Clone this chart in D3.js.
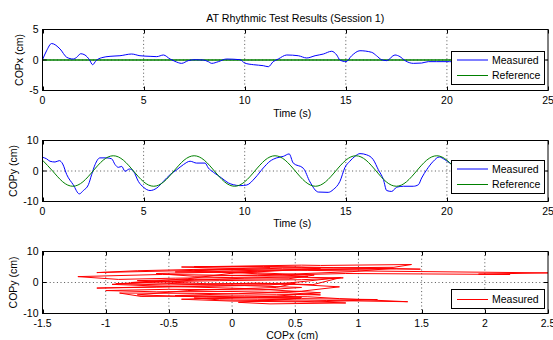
<!DOCTYPE html>
<html><head><meta charset="utf-8">
<script src="https://cdn.jsdelivr.net/npm/d3@7/dist/d3.min.js"></script>
<style>
html,body{margin:0;padding:0;background:#fff;}
svg{display:block;font-family:"Liberation Sans",Arial,Helvetica,sans-serif;}
</style></head>
<body>
<svg id="chart" width="553" height="340"></svg>
<script>
// ---------- DATA ----------
const titleText = "AT Rhythmic Test Results (Session 1)";
const timeTicks = [0, 5, 10, 15, 20, 25];
const copxTicks = [-5, 0, 5];
const copyTicks = [-10, 0, 10];
const xyXTicks = [-1.5, -1, -0.5, 0, 0.5, 1, 1.5, 2, 2.5];

// Panel 1: COPx vs time
const tCopx = [0, 0.2, 0.45, 0.87, 1.2, 1.52, 1.69, 1.89, 2.1, 2.32, 2.48, 2.65, 2.93, 3.34, 3.83, 4.41, 4.82, 5.32, 5.65, 5.98, 6.31, 6.55, 6.88, 7.21, 7.54, 7.95, 8.2, 8.37, 8.7, 9.1, 9.77, 10.0, 10.43, 10.92, 11.17, 11.41, 11.66, 12.08, 12.65, 13.07, 13.48, 13.89, 14.3, 14.55, 14.71, 15.01, 15.29, 15.7, 16.28, 16.52, 16.77, 17.02, 17.43, 17.68, 17.93, 18.34, 18.75, 19.08, 19.5, 20.12, 20.5];
const copxMeasured = [0.05, 1.5, 2.7, 1.8, 0.44, 0.16, 0.44, 1.03, 0.82, 0.05, -0.77, -0.1, 0.38, 0.6, 0.7, 0.98, 0.7, 0.6, 0.55, 0.82, 0.16, -0.22, -0.55, -0.1, 0.05, 0, -0.27, -0.55, -0.27, 0.16, 0.05, -0.5, -0.77, -0.93, -1.1, -0.27, 0.16, 0.82, 0.7, 0.33, 0.7, 0.98, 1.43, 0.82, 0, -0.27, 0.7, 1.52, 1.26, 0.7, 0.05, -0.1, 0.82, 0.55, -0.1, -0.55, -0.5, -0.27, -0.27, -0.27, -0.3];
const tCopxRef = [0, 20.5];
const copxReference = [0, 0];

// Panel 2: COPy vs time
const tCopy = [0, 0.2, 0.37, 0.62, 0.83, 1.0, 1.2, 1.52, 1.82, 2.02, 2.27, 2.43, 2.6, 2.84, 3.17, 3.42, 3.59, 3.75, 3.92, 4.08, 4.3, 4.5, 4.74, 4.99, 5.32, 5.65, 5.98, 6.31, 6.64, 6.97, 7.3, 7.62, 8.04, 8.2, 8.45, 8.86, 9.19, 9.44, 9.77, 10.1, 10.51, 10.92, 11.25, 11.58, 11.91, 12.2, 12.4, 12.9, 13.23, 13.64, 14.13, 14.38, 14.71, 14.96, 15.2, 15.45, 15.7, 16.03, 16.36, 16.61, 16.86, 17.02, 17.27, 17.52, 17.85, 18.34, 18.59, 18.75, 19.0, 19.33, 19.62, 19.9, 20.15, 20.5];
const copyMeasured = [4.5, 4.0, 3.2, 2.95, 3.4, 2.3, -1.2, -4.5, -7.5, -6.4, -4.5, -1.2, 2.1, 4.3, 4.3, 4.0, 2.1, 1.2, 1.5, -0.1, 0.65, -0.1, -3.4, -5.3, -6.4, -5.6, -3.4, -1.2, 0.4, 2.1, 3.2, 2.6, 2.6, 1.0, -0.4, -2.3, -3.9, -4.5, -4.8, -4.6, -2.3, 1.0, 3.2, 4.3, 4.8, 5.6, 2.6, 0.9, -3.6, -6.9, -7.0, -6.1, -3.4, 1.2, 3.2, 4.8, 5.7, 5.3, 3.7, 0.4, -2.8, -6.4, -6.7, -5.3, -5.0, -5.0, -4.5, -2.3, 0.4, 3.2, 4.6, 3.7, 2.6, 1.5];
const tCopyRef = [0, 0.5, 1, 1.5, 2, 2.5, 3, 3.5, 4, 4.5, 5, 5.5, 6, 6.5, 7, 7.5, 8, 8.5, 9, 9.5, 10, 10.5, 11, 11.5, 12, 12.5, 13, 13.5, 14, 14.5, 15, 15.5, 16, 16.5, 17, 17.5, 18, 18.5, 19, 19.5, 20, 20.5];
const copyReference = [3.54, 0, -3.54, -5, -3.54, 0, 3.54, 5, 3.54, 0, -3.54, -5, -3.54, 0, 3.54, 5, 3.54, 0, -3.54, -5, -3.54, 0, 3.54, 5, 3.54, 0, -3.54, -5, -3.54, 0, 3.54, 5, 3.54, 0, -3.54, -5, -3.54, 0, 3.54, 5, 3.54, 0];

// Panel 3: COPy vs COPx trajectory
const xyCopx = [0.10, -0.40, 0.55, 0.70, 1.42, 1.28, 0.40, -0.30, -1.07, -0.75, -0.20, 0.60, 2.50, 1.95, 2.20, 0.90, 0.20, -0.55, -1.22, -0.90, -0.45, 0.30, 0.88, 0.55, -0.10, -0.60, -0.92, -0.50, 0.20, 0.64, 0.86, 0.30, -0.40, -1.07, -0.60, 0.10, 0.55, 0.25, -0.50, -1.00, -0.60, 0.00, 0.45, 0.70, 0.35, -0.30, -0.89, -0.72, 0.10, 0.60, 0.85, 1.39, 0.75, 0.20, -0.30, -0.10, 0.50, 0.90, 0.30, 0.05, 0.45, 0.55, 0.20, -0.45, 0.05, 0.55, 0.85, 0.50, -0.20, -0.75, -0.30, 0.45, 0.65, 0.15, -0.45, 0.30, 1.30, 1.49, 0.80, 0.25, -0.30, 0.55, 0.70, 0.20, -0.60, -0.30, 0.40, 0.95, 1.28, 0.55, 0.00, -0.35, -0.80, -0.20, 0.50, 0.35, -0.35, -0.75, -0.20, 0.55, 1.15, 0.65, 0.00, -0.40, 0.35, 0.70, 0.15, -0.55, -0.95, -0.50, 0.10, 0.60, 0.20, -0.30, 0.30];
const xyCopy = [4.4, 5.0, 5.6, 5.5, 5.8, 4.9, 4.6, 3.9, 3.2, 3.8, 4.3, 3.9, 3.1, 2.7, 2.6, 2.9, 2.2, 2.6, 1.9, 1.0, 1.4, 1.8, 1.5, 0.9, 0.6, 0.2, -0.4, -0.8, -0.2, -0.7, 1.6, -0.8, -1.2, -1.8, -1.5, -1.0, -1.6, -2.4, -2.2, -2.6, -3.0, -2.9, -3.3, -4.0, -3.8, -3.5, -3.4, -4.5, -4.3, -4.6, -5.2, -6.2, -5.8, -5.4, -5.0, -5.6, -6.0, -6.6, -6.9, -6.4, -5.4, -4.9, -4.8, -4.2, -3.6, -2.8, -1.4, -0.6, -0.4, 0.6, 1.0, 1.2, 2.4, 3.2, 3.4, 4.0, 4.4, 4.3, 4.8, 5.2, 5.1, 4.9, 4.6, 3.6, 2.9, 2.0, 2.6, 3.5, 4.6, 4.2, 3.0, 1.2, 0.0, -0.6, -0.2, -1.6, -2.6, -4.0, -4.7, -5.2, -5.5, -6.3, -6.0, -5.4, -4.4, -3.3, -2.0, -1.2, -0.6, 0.4, 1.4, 2.0, 2.8, 4.0, 4.8];

// ---------- LAYOUT ----------
const svg = d3.select("#chart");
const L = 42.5, R = 548;
const panels = [
  {top: 29.5, bottom: 90.5, xDom: [0, 25], yDom: [-5, 5], xTicks: timeTicks, yTicks: copxTicks,
   xLabel: "Time (s)", yLabel: "COPx (cm)", yLabX: 22.5, tickBase: 104, xLabBase: 116.5,
   legend: {x: 451, y: 51, w: 93, h: 33, rows: [{c: "#0000ff", t: "Measured"}, {c: "#008000", t: "Reference"}]}},
  {top: 140.5, bottom: 201.5, xDom: [0, 25], yDom: [-10, 10], xTicks: timeTicks, yTicks: copyTicks,
   xLabel: "Time (s)", yLabel: "COPy (cm)", yLabX: 16.5, tickBase: 215, xLabBase: 227,
   legend: {x: 451, y: 160, w: 93, h: 33, rows: [{c: "#0000ff", t: "Measured"}, {c: "#008000", t: "Reference"}]}},
  {top: 251.5, bottom: 313.5, xDom: [-1.5, 2.5], yDom: [-10, 10], xTicks: xyXTicks, yTicks: copyTicks,
   xLabel: "COPx (cm)", yLabel: "COPy (cm)", yLabX: 16.5, tickBase: 327, xLabBase: 338.5,
   legend: {x: 451, y: 289, w: 93, h: 19, rows: [{c: "#ff0000", t: "Measured"}]}}
];
const fs = 10.5;
const fmt = v => String(v).replace("\u2212", "-");

panels.forEach(p => {
  p.x = d3.scaleLinear().domain(p.xDom).range([L, R]);
  p.y = d3.scaleLinear().domain(p.yDom).range([p.bottom, p.top]);
});

// Title
svg.append("text").attr("x", (L + R) / 2).attr("y", 22).attr("text-anchor", "middle")
  .attr("font-size", 10.7).attr("fill", "#000").text(titleText);

function drawPanel(p, series) {
  const g = svg.append("g");
  const x = p.x, y = p.y;
  // grid
  g.append("g").selectAll("line").data(p.xTicks.filter(v => v > p.xDom[0] && v < p.xDom[1]))
    .join("line").attr("x1", d => x(d)).attr("x2", d => x(d)).attr("y1", p.top).attr("y2", p.bottom)
    .attr("stroke", "#555").attr("stroke-width", 1).attr("stroke-dasharray", "1,2.6");
  g.append("g").selectAll("line").data(p.yTicks.filter(v => v > p.yDom[0] && v < p.yDom[1]))
    .join("line").attr("y1", d => y(d)).attr("y2", d => y(d)).attr("x1", L).attr("x2", R)
    .attr("stroke", "#555").attr("stroke-width", 1).attr("stroke-dasharray", "1,2.6");
  // series
  const clipId = "clip" + p.top;
  svg.append("clipPath").attr("id", clipId).append("rect")
    .attr("x", L).attr("y", p.top).attr("width", R - L).attr("height", p.bottom - p.top);
  const sg = g.append("g").attr("clip-path", `url(#${clipId})`);
  series.forEach(s => {
    const pts = s.xs.map((v, i) => [v, s.ys[i]]);
    const line = d3.line().x(d => x(d[0])).y(d => y(d[1])).curve(s.curve || d3.curveLinear);
    sg.append("path").attr("d", line(pts)).attr("fill", "none").attr("stroke", s.color)
      .attr("stroke-width", s.width || 1).attr("stroke-linejoin", "round");
  });
  // box
  g.append("rect").attr("x", L).attr("y", p.top).attr("width", R - L).attr("height", p.bottom - p.top)
    .attr("fill", "none").attr("stroke", "#000").attr("stroke-width", 1);
  // ticks (inward, all sides)
  const tl = 4;
  const tk = g.append("g").attr("stroke", "#000").attr("stroke-width", 1);
  p.xTicks.forEach(v => {
    const xx = Math.round(x(v)) + 0.5;
    tk.append("line").attr("x1", xx).attr("x2", xx).attr("y1", p.bottom).attr("y2", p.bottom - tl);
    tk.append("line").attr("x1", xx).attr("x2", xx).attr("y1", p.top).attr("y2", p.top + tl);
  });
  p.yTicks.forEach(v => {
    const yy = y(v);
    tk.append("line").attr("x1", L).attr("x2", L + tl).attr("y1", yy).attr("y2", yy);
    tk.append("line").attr("x1", R).attr("x2", R - tl).attr("y1", yy).attr("y2", yy);
  });
  // tick labels
  g.append("g").selectAll("text").data(p.xTicks).join("text")
    .attr("x", d => x(d)).attr("y", p.tickBase).attr("text-anchor", "middle")
    .attr("font-size", fs).attr("fill", "#000").text(d => fmt(d));
  g.append("g").selectAll("text").data(p.yTicks).join("text")
    .attr("x", 38.5).attr("y", d => y(d)).attr("dy", "0.36em").attr("text-anchor", "end")
    .attr("font-size", fs).attr("fill", "#000").text(d => fmt(d));
  // axis labels
  g.append("text").attr("x", (L + R) / 2 - 3).attr("y", p.xLabBase).attr("text-anchor", "middle")
    .attr("font-size", fs).attr("fill", "#000").text(p.xLabel);
  g.append("text").attr("transform", `translate(${p.yLabX},${(p.top + p.bottom) / 2}) rotate(-90)`)
    .attr("text-anchor", "middle").attr("font-size", fs).attr("fill", "#000").text(p.yLabel);
  // legend
  const lg = p.legend;
  const lgg = svg.append("g");
  lgg.append("rect").attr("x", lg.x + 0.5).attr("y", lg.y + 0.5).attr("width", lg.w).attr("height", lg.h)
    .attr("fill", "#fff").attr("stroke", "#000").attr("stroke-width", 1);
  lg.rows.forEach((r, i) => {
    const ry = lg.y + (lg.rows.length === 1 ? 10.5 : 9 + i * 15.5);
    lgg.append("line").attr("x1", lg.x + 6).attr("x2", lg.x + 37).attr("y1", ry).attr("y2", ry)
      .attr("stroke", r.c).attr("stroke-width", 1);
    lgg.append("text").attr("x", lg.x + 41).attr("y", ry).attr("dy", "0.36em")
      .attr("font-size", fs).attr("fill", "#000").text(r.t);
  });
}

drawPanel(panels[0], [
  {xs: tCopxRef, ys: copxReference, color: "#008000", width: 1.5},
  {xs: tCopx, ys: copxMeasured, color: "#0000ff", curve: d3.curveMonotoneX}
]);
drawPanel(panels[1], [
  {xs: tCopy, ys: copyMeasured, color: "#0000ff", curve: d3.curveMonotoneX},
  {xs: tCopyRef, ys: copyReference, color: "#008000", curve: d3.curveNatural}
]);
drawPanel(panels[2], [
  {xs: xyCopx, ys: xyCopy, color: "#ff0000"}
]);
</script>
</body></html>
